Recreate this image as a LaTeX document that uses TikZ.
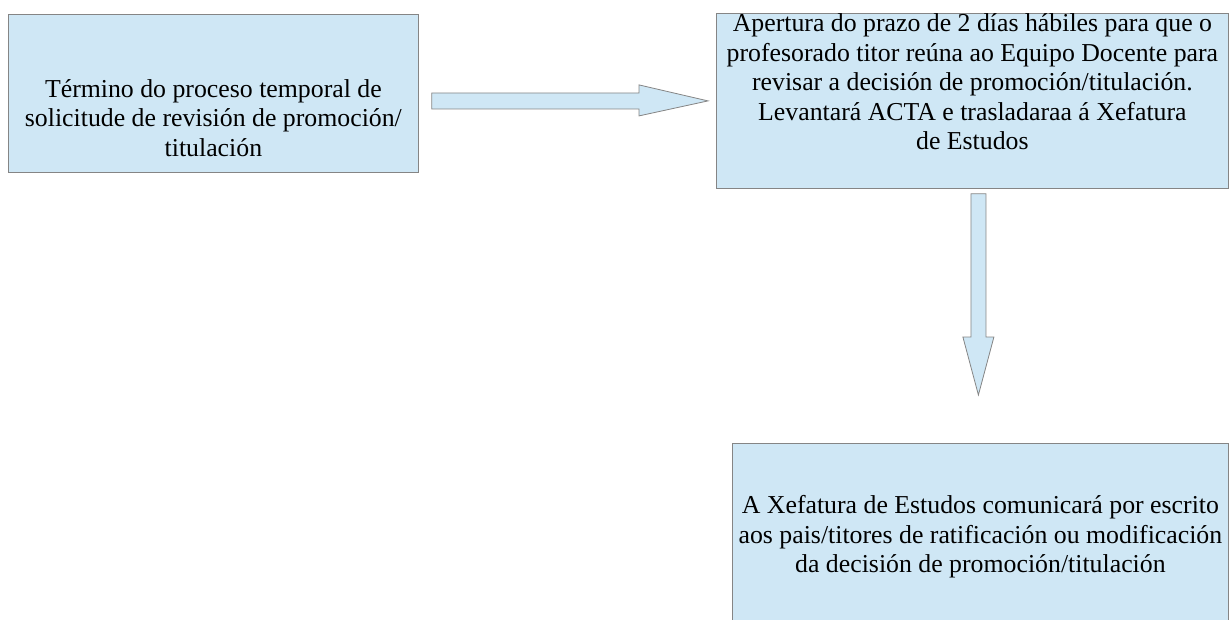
\documentclass[tikz,border=0pt]{standalone}
\usepackage{fontspec}
\setmainfont{Liberation Serif}
\usetikzlibrary{calc,positioning}
\definecolor{caixaazul}{HTML}{CFE7F5}
\definecolor{bordogris}{HTML}{858585}
\tikzset{
  caixa/.style={rectangle, draw=bordogris, fill=caixaazul, line width=0.8pt, inner sep=0pt, anchor=north west},
  texto/.style={align=center, inner sep=0pt, font=\fontsize{25.8}{29.5}\selectfont},
  frecha/.style={draw=bordogris, fill=caixaazul, line width=0.8pt, line join=miter}
}

\begin{document}
\begin{tikzpicture}[x=1pt, y=-1pt]
	%%%%% START %%%%%
	\useasboundingbox (0,0) rectangle (1229,619);
	\clip (0,0) rectangle (1229,619);
	
	\node[caixa, minimum width=410pt, minimum height=158pt] (termino) at (8,14) {};
	\node[caixa, minimum width=512pt, minimum height=175pt] (revisar) at (716,13) {};
	\node[caixa, minimum width=496pt, minimum height=190pt] (mensaxe) at (732,443) {};
	
	\node[texto] (terminoTxt) at ($(termino.north)+(0,104)$) {Término do proceso temporal de\\solicitude de revisión de promoción/\\titulación};
	\node[texto] (revisarTxt) at ($(revisar.north)+(0,69)$) {Apertura do prazo de 2 días hábiles para que o\\profesorado titor reúna ao Equipo Docente para\\revisar a decisión de promoción/titulación.\\Levantará ACTA e trasladaraa á Xefatura\\de Estudos};
	\node[texto] (mensaxeTxt) at ($(mensaxe.north)+(0,94)$) {A Xefatura de Estudos comunicará por escrito\\aos pais/titores de ratificación ou modificación\\da decisión de promoción/titulación};
	
	% frecha horizontal
	\coordinate (a1) at ($(termino.east |- revisar.west)+(13,0)$);
	\coordinate (b1) at ($(revisar.west)+(-8,0)$);
	\draw[frecha] ($(a1)+(0,-8)$) -- ($(b1)+(-69,-8)$) -- ($(b1)+(-69,-16)$) -- (b1)
		-- ($(b1)+(-69,15)$) -- ($(b1)+(-69,8)$) -- ($(a1)+(0,8)$) -- cycle;
	
	% frecha vertical
	\coordinate (d2) at ($(mensaxe.north)+(-2,-48)$);
	\coordinate (c2) at ($(d2 |- revisar.south)+(0,5)$);
	\draw[frecha] ($(c2)+(-7.5,0)$) -- ($(d2)+(-7.5,-58)$) -- ($(d2)+(-15.5,-58)$) -- (d2)
		-- ($(d2)+(15.5,-58)$) -- ($(d2)+(7.5,-58)$) -- ($(c2)+(7.5,0)$) -- cycle;
	%%%%% END %%%%%
\end{tikzpicture}
\end{document}
